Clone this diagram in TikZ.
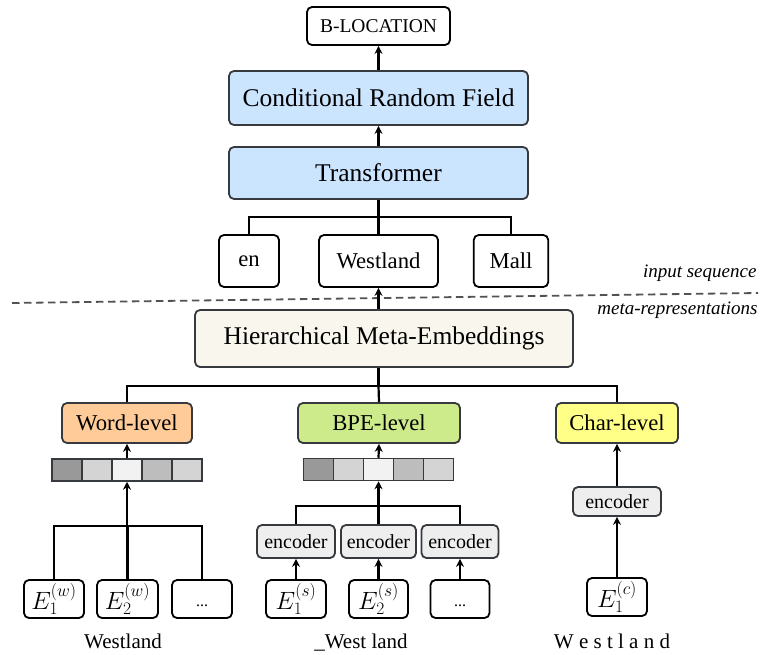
\RequirePackage{fix-cm}
\documentclass[tikz,border=0pt]{standalone}
\usepackage{fontspec}
\setmainfont{Liberation Serif}
\usetikzlibrary{arrows.meta}

\definecolor{blueF}{HTML}{CCE5FF}
\definecolor{creamF}{HTML}{F9F7ED}
\definecolor{orangeF}{HTML}{FFCC99}
\definecolor{greenF}{HTML}{CDEB8B}
\definecolor{yellowF}{HTML}{FFFF88}
\definecolor{encF}{HTML}{EEEEEE}
\definecolor{edgeD}{HTML}{36393D}
\definecolor{vA}{HTML}{999999}
\definecolor{vB}{HTML}{D4D4D4}
\definecolor{vC}{HTML}{F2F2F2}
\definecolor{vD}{HTML}{BDBDBD}

\newcommand\szBig{\fontsize{25.5}{30}\selectfont}
\newcommand\szMid{\fontsize{22.7}{26}\selectfont}
\newcommand\szLab{\fontsize{19.5}{23}\selectfont}
\newcommand\szEnc{\fontsize{20}{23}\selectfont}
\newcommand\szNote{\fontsize{19}{22}\selectfont}
\newcommand\szWord{\fontsize{21}{24}\selectfont}
\newcommand\szMath{\fontsize{25}{28}\selectfont}
\newcommand\szDots{\fontsize{16}{18}\selectfont}

\tikzset{
  box/.style={draw, rounded corners=5pt, line width=1.8pt, inner sep=0pt, align=center},
  whitebox/.style={box, draw=black, fill=white},
  bluebox/.style={box, draw=edgeD, fill=blueF, minimum width=299, font=\szBig},
  levelbox/.style={box, draw=edgeD, minimum height=40, font=\szMid},
  encbox/.style={box, draw=edgeD, fill=encF, font=\szEnc},
  ebox/.style={whitebox, minimum width=60, minimum height=38, font=\szMath},
  cell/.style={draw=edgeD, line width=1.5pt, minimum width=30, minimum height=22, inner sep=0pt},
  wire/.style={line width=2.2pt, draw=black},
  arr/.style={wire, -{Stealth[length=8pt,width=8pt]}},
  trunk/.style={line width=2.8pt, draw=black, -{Stealth[length=8pt,width=8pt]}},
  note/.style={font=\szNote\itshape, anchor=base east},
  under/.style={font=\szWord, anchor=base}
}

% ellipsis sitting low in its box
\newcommand\lowdots{\smash{\raisebox{-7pt}{\szDots ...}}}

\begin{document}
\begin{tikzpicture}[x=1pt,y=-1pt]
\useasboundingbox (0,0) rectangle (765,655);

% output and sequence model
\node[whitebox, minimum width=143, minimum height=38, font=\szLab] (out) at (378.5,26) {B-LOCATION};
\node[bluebox, minimum height=54] (crf) at (378.5,98) {Conditional Random Field};
\node[bluebox, minimum height=52] (trans) at (378.5,173) {Transformer};

% input tokens
\node[whitebox, minimum width=60, minimum height=52, font=\szMid] (en) at (249,261) {en};
\node[whitebox, minimum width=119, minimum height=52, font=\szMid] (west) at (378.5,261) {Westland};
\node[whitebox, minimum width=74.5, minimum height=52, font=\szMid] (mall) at (511,261) {Mall};

\draw[arr] (crf.north) -- (out.south);
\draw[arr] (trans.north) -- (crf.south);
\coordinate (tj) at (378.5,216.7);
\draw[wire] (trans.south) -- (tj);
\draw[wire] (en.north) |- (tj) -| (mall.north);
\draw[wire] (tj) -- (west.north);

% separator between the two stages
\draw[line width=1.8pt, draw=black!68, dash pattern=on 7.5pt off 4.5pt] (12,303) -- (758,293);
\node[note] (inseq) at (760,277) {input sequence};
\node[note] (metarep) at (761,314) {meta-representations};

% meta-embedding layer
\node[box, draw=edgeD, fill=creamF, minimum width=378, minimum height=57, font=\szBig] (hme) at (384,338.5) {Hierarchical Meta-Embeddings};
\draw[arr] (west.south |- hme.north) -- (west.south);

\node[levelbox, fill=orangeF, minimum width=130] (word) at (127,423) {Word-level};
\node[levelbox, fill=greenF, minimum width=162] (bpe) at (379,423) {BPE-level};
\node[levelbox, fill=yellowF, minimum width=122] (char) at (617,423) {Char-level};

\coordinate (hj) at (378.5,386);
\draw[wire] (west.south |- hme.south) -- (hj);
\draw[wire] (word.north) |- (hj) -| (char.north);
\draw[wire] (hj) -- (bpe.north);

% word-level branch
\foreach \i/\c [count=\k] in {67/vA,97/vB,127/vC,157/vD,187/vB}
  \node[cell, fill=\c] (wv\k) at (\i,470) {};
\draw[arr] (wv3.north) -- (word.south);

\node[ebox] (ew1) at (54,599) {$E_1^{(w)}$};
\node[ebox, minimum width=61] (ew2) at (127.5,599) {$E_2^{(w)}$};
\node[ebox] (ew3) at (202,599) {\lowdots};
\coordinate (wj) at (127,526);
\draw[wire] (ew1.north) |- (wj) -| (ew3.north);
\draw[wire] (ew2.north |- wj) -- (ew2.north);
\draw[trunk] (wj) -- (wv3.south);
\node[under] (lw) at (123,648) {Westland};

% subword-level branch
\foreach \i/\c [count=\k] in {318.5/vA,348.5/vB,378.5/vC,408.5/vD,438.5/vB}
  \node[cell, fill=\c] (bv\k) at (\i,469.5) {};
\draw[arr] (bv3.north) -- (bpe.south);

\node[encbox, minimum width=78, minimum height=33] (enc1) at (296,541.5) {encoder};
\node[encbox, minimum width=75, minimum height=33] (enc2) at (378.5,541.5) {encoder};
\node[encbox, minimum width=77, minimum height=33] (enc3) at (460,541.5) {encoder};
\coordinate (bj) at (378.5,506);
\draw[wire] (enc1.north) |- (bj) -| (enc3.north);
\draw[trunk] (enc2.north) -- (bv3.south);

\node[ebox] (es1) at (296,599) {$E_1^{(s)}$};
\node[ebox, minimum width=59] (es2) at (378.5,599) {$E_2^{(s)}$};
\node[ebox, minimum width=59] (es3) at (460,599) {\lowdots};
\draw[arr] (es1.north) -- (enc1.south);
\draw[arr] (es2.north) -- (enc2.south);
\draw[arr] (es3.north) -- (enc3.south);
\node[under] (ls) at (361,648) {\_West land};

% character-level branch
\node[encbox, minimum width=88, minimum height=29] (encc) at (617,501.5) {encoder};
\node[ebox] (ec1) at (617,597) {$E_1^{(c)}$};
\draw[arr] (encc.north) -- (char.south);
\draw[arr] (ec1.north) -- (encc.south);
\node[under] (lc) at (612,648) {W e s t l a n d};
\end{tikzpicture}
\end{document}
